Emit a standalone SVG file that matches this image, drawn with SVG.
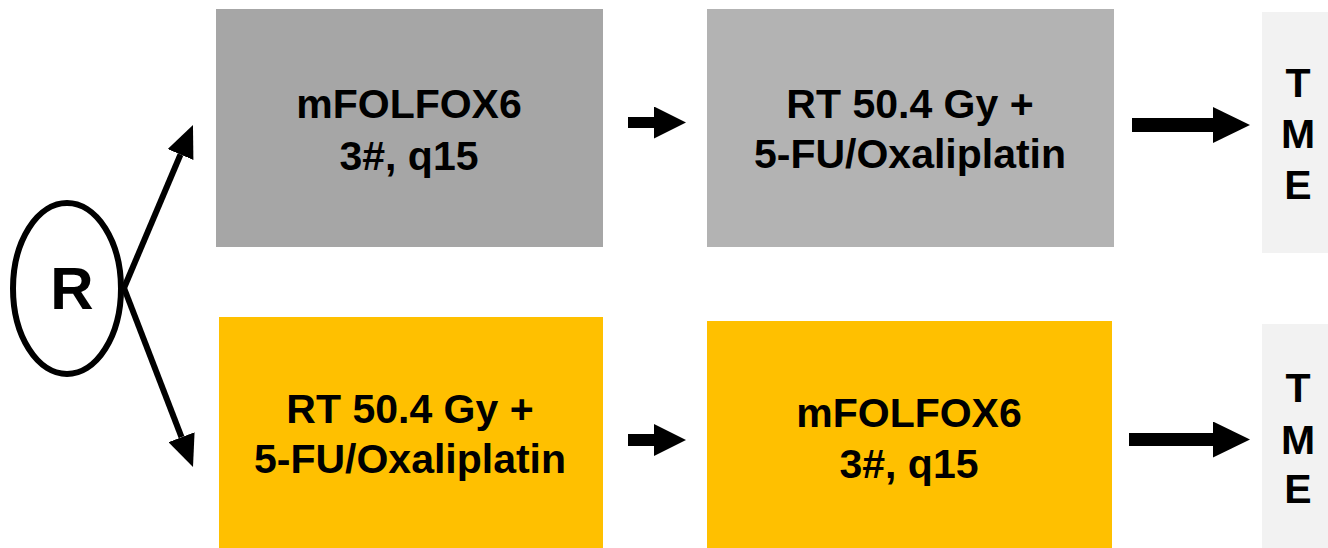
<svg xmlns="http://www.w3.org/2000/svg" width="1328" height="548" viewBox="0 0 1328 548">
<style>
  .lbl{font-family:"Liberation Sans",Arial,sans-serif;font-weight:bold;font-size:41px;fill:#000;text-anchor:middle}
  .conn{stroke:#000;fill:none}
</style>
<defs>
  <marker id="headDiag" markerUnits="userSpaceOnUse" markerWidth="32" markerHeight="28" viewBox="0 0 32 28" refX="0" refY="14" orient="auto">
    <path d="M0,0 L32,14 L0,28 z" fill="#000"/>
  </marker>
  <marker id="headSmall" markerUnits="userSpaceOnUse" markerWidth="32" markerHeight="32" viewBox="0 0 32 32" refX="0" refY="16" orient="auto">
    <path d="M0,0 L32,16 L0,32 z" fill="#000"/>
  </marker>
  <marker id="headBig" markerUnits="userSpaceOnUse" markerWidth="37" markerHeight="36" viewBox="0 0 37 36" refX="0" refY="18" orient="auto">
    <path d="M0,0 L37,18 L0,36 z" fill="#000"/>
  </marker>
</defs>
<rect width="1328" height="548" fill="#fff"/>

<g id="node-R">
  <ellipse cx="67" cy="288.5" rx="54" ry="85.5" fill="#fff" stroke="#000" stroke-width="6"/>
  <text class="lbl" x="72" y="309" style="font-size:60px">R</text>
</g>

<g id="node-arm1-chemo">
  <rect x="216" y="9" width="387" height="238" fill="#a6a6a6"/>
  <text class="lbl" x="409" y="118">mFOLFOX6</text>
  <text class="lbl" x="409" y="170">3#, q15</text>
</g>
<g id="node-arm1-rt">
  <rect x="707" y="9" width="407" height="238" fill="#b3b3b3"/>
  <text class="lbl" x="910" y="118">RT 50.4 Gy +</text>
  <text class="lbl" x="910" y="168">5-FU/Oxaliplatin</text>
</g>
<g id="node-arm1-tme">
  <rect x="1262" y="12" width="66" height="241" fill="#f2f2f2"/>
  <text class="lbl" x="1298" y="97">T</text>
  <text class="lbl" x="1298" y="148">M</text>
  <text class="lbl" x="1298" y="199">E</text>
</g>

<g id="node-arm2-rt">
  <rect x="219" y="317" width="384" height="231" fill="#ffc000"/>
  <text class="lbl" x="410" y="423">RT 50.4 Gy +</text>
  <text class="lbl" x="410" y="473">5-FU/Oxaliplatin</text>
</g>
<g id="node-arm2-chemo">
  <rect x="707" y="321" width="405" height="227" fill="#ffc000"/>
  <text class="lbl" x="909" y="427">mFOLFOX6</text>
  <text class="lbl" x="909" y="478">3#, q15</text>
</g>
<g id="node-arm2-tme">
  <rect x="1262" y="324" width="66" height="224" fill="#f2f2f2"/>
  <text class="lbl" x="1298" y="402">T</text>
  <text class="lbl" x="1298" y="454">M</text>
  <text class="lbl" x="1298" y="503">E</text>
</g>

<g id="connectors">
  <line class="conn" x1="124" y1="288" x2="180.5" y2="154.5" stroke-width="6" marker-end="url(#headDiag)"/>
  <line class="conn" x1="124" y1="288" x2="181.5" y2="437.2" stroke-width="6" marker-end="url(#headDiag)"/>
  <line class="conn" x1="628" y1="122.5" x2="654" y2="122.5" stroke-width="11" marker-end="url(#headSmall)"/>
  <line class="conn" x1="628" y1="440" x2="654" y2="440" stroke-width="12" marker-end="url(#headSmall)"/>
  <line class="conn" x1="1132" y1="125" x2="1213" y2="125" stroke-width="14" marker-end="url(#headBig)"/>
  <line class="conn" x1="1129" y1="439.5" x2="1213" y2="439.5" stroke-width="13" marker-end="url(#headBig)"/>
</g>
</svg>
